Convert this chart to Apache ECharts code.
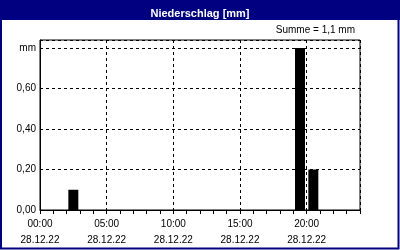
<!DOCTYPE html>
<html>
<head>
<meta charset="utf-8">
<script src="https://cdn.jsdelivr.net/npm/echarts@6/dist/echarts.min.js"></script>
<style>
html,body{margin:0;padding:0;background:#fff;}
#c{width:400px;height:250px;}
</style>
</head>
<body>
<div id="c"></div>
<script>
// Data
const titleText = 'Niederschlag [mm]';
const sumText = 'Summe = 1,1 mm';
const dateLabel = '28.12.22';
const hours = [2.5, 19.5, 20.5];          // bar centre, hours since 00:00
const precip = [0.1, 0.8, 0.2];           // mm
const yTicks = [0, 0.2, 0.4, 0.6, 0.8];
const yTickLabels = ['0,00', '0,20', '0,40', '0,60', 'mm'];

const FONT = 'Liberation Sans';
const chart = echarts.init(document.getElementById('c'), null, {renderer: 'canvas'});

const pad = n => (n < 10 ? '0' : '') + n;

chart.setOption({
  animation: false,
  backgroundColor: '#ffffff',
  graphic: [
    {type: 'rect', shape: {x: 0, y: 0, width: 400, height: 20}, style: {fill: '#000080'}, z: 0},
    {type: 'rect', shape: {x: 1, y: 1, width: 397.5, height: 247.5}, style: {fill: 'none', stroke: '#000080', lineWidth: 2}, z: 0},
    {type: 'text', right: 45, top: 25, style: {text: sumText, fill: '#000', font: '10px "' + FONT + '"'}}
  ],
  title: {
    text: titleText,
    left: 'center',
    top: 3,
    textStyle: {color: '#fff', fontFamily: FONT, fontSize: 11, fontWeight: 'bold'}
  },
  grid: {left: 40, right: 40, top: 40, bottom: 40, show: true, borderColor: '#000', borderWidth: 1, backgroundColor: 'transparent'},
  xAxis: {
    type: 'value',
    min: 0, max: 24, interval: 5,
    axisLine: {show: true, onZero: false, lineStyle: {color: '#000', width: 1}},
    axisTick: {show: true, length: 4, lineStyle: {color: '#000'}},
    minorTick: {show: true, splitNumber: 5, length: 4, lineStyle: {color: '#000'}},
    splitLine: {show: true, lineStyle: {color: '#000', type: [3, 3], width: 1}},
    axisLabel: {
      color: '#000', fontFamily: FONT, fontSize: 10, lineHeight: 16, margin: 6,
      showMaxLabel: false,
      formatter: v => (v >= 24 ? '' : pad(v) + ':00\n' + dateLabel)
    }
  },
  yAxis: {
    type: 'value',
    min: 0, max: 0.84, interval: 0.2,
    axisLine: {show: true, lineStyle: {color: '#000'}},
    axisTick: {show: false},
    splitLine: {show: true, lineStyle: {color: '#000', type: [3, 3], width: 1}},
    axisLabel: {
      color: '#000', fontFamily: FONT, fontSize: 10, margin: 4,
      showMaxLabel: false,
      formatter: v => {
        const i = yTicks.findIndex(t => Math.abs(t - v) < 1e-6);
        return i >= 0 ? yTickLabels[i] : '';
      }
    }
  },
  series: [{
    type: 'bar',
    data: hours.map((h, i) => [h, precip[i]]),
    barWidth: 10,
    itemStyle: {color: '#000'},
    z: 3
  }]
});
</script>
</body>
</html>
